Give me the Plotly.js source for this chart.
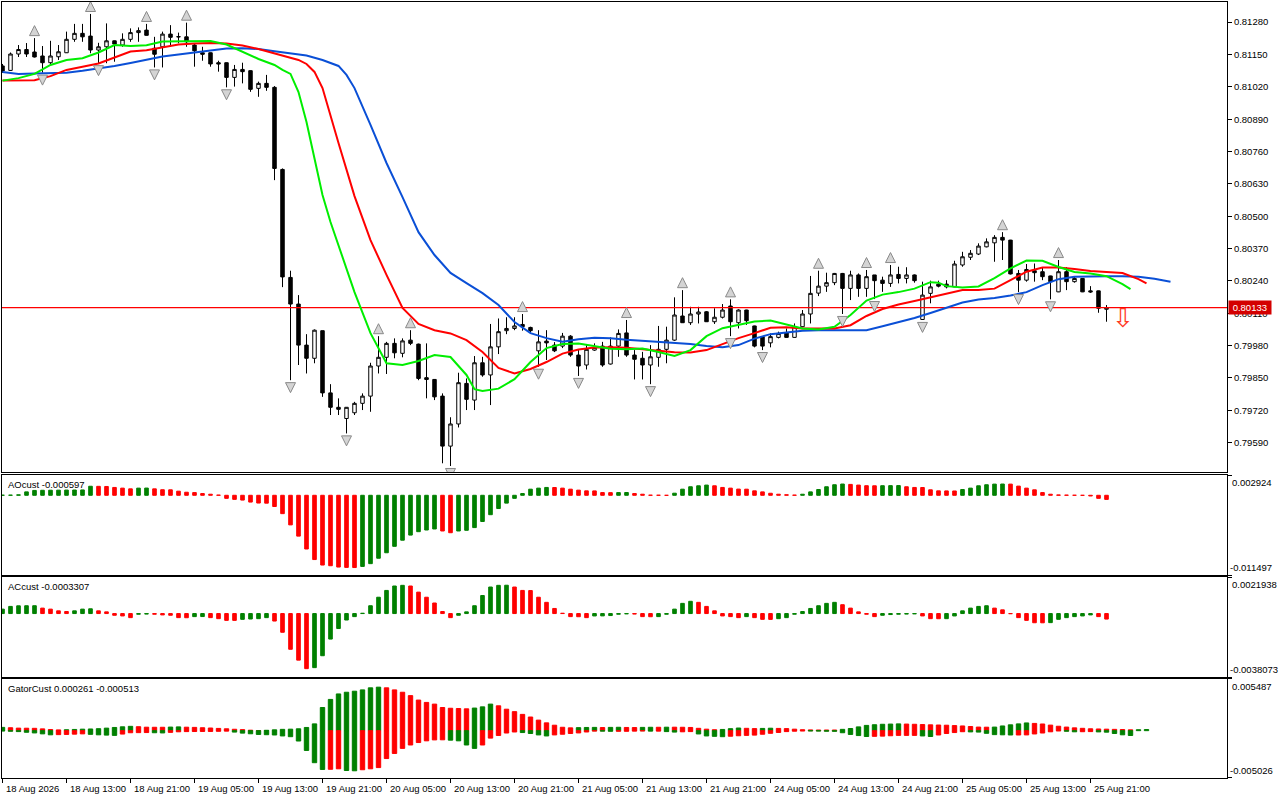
<!DOCTYPE html>
<html>
<head>
<meta charset="utf-8">
<script src="https://cdn.plot.ly/plotly-3.0.1.min.js"></script>
<style>html,body{margin:0;padding:0;background:#fff}#chart{width:1280px;height:800px}</style>
</head>
<body>
<div id="chart"></div>
<script>
// H1 chart: candles + alligator + fractals, then AO / AC / Gator panels

var FONT = "Liberation Sans, Arial, sans-serif";
var FS = 9.5;

// time axis labels, one every 8 bars
var tickLabels = ["18 Aug 2026","18 Aug 13:00","18 Aug 21:00","19 Aug 05:00","19 Aug 13:00","19 Aug 21:00",
  "20 Aug 05:00","20 Aug 13:00","20 Aug 21:00","21 Aug 05:00","21 Aug 13:00","21 Aug 21:00",
  "24 Aug 05:00","24 Aug 13:00","24 Aug 21:00","25 Aug 05:00","25 Aug 13:00","25 Aug 21:00"];
var tickBars = [0,8,16,24,32,40,48,56,64,72,80,88,96,104,112,120,128,136];

var priceTicks = [0.81280,0.81150,0.81020,0.80890,0.80760,0.80630,0.80500,0.80370,0.80240,0.80110,0.79980,0.79850,0.79720,0.79590];
var lastPrice = 0.80133;

var openP = [0.81104,0.81086,0.81152,0.81170,0.81160,0.81144,0.81117,0.81141,0.81157,0.81211,
  0.81235,0.81224,0.81168,0.81181,0.81205,0.81188,0.81211,0.81238,0.81248,0.81175,
  0.81181,0.81232,0.81222,0.81221,0.81188,0.81157,0.81157,0.81117,0.81117,0.81058,
  0.81090,0.81085,0.81014,0.81034,0.81018,0.80688,0.80254,0.80147,0.79982,0.79929,
  0.80040,0.79790,0.79732,0.79687,0.79710,0.79748,0.79777,0.79898,0.79933,0.79989,
  0.79949,0.80002,0.79986,0.79851,0.79844,0.79777,0.79576,0.79665,0.79828,0.79761,
  0.79911,0.79862,0.79975,0.80040,0.80049,0.80065,0.80053,0.79959,0.79998,0.79982,
  0.79978,0.80018,0.79942,0.79902,0.79962,0.79978,0.79906,0.79978,0.80031,0.79942,
  0.79929,0.79902,0.79933,0.79965,0.80002,0.80099,0.80072,0.80107,0.80116,0.80076,
  0.80094,0.80139,0.80072,0.80123,0.80059,0.80016,0.79991,0.80013,0.80031,0.80013,
  0.80056,0.80107,0.80191,0.80219,0.80233,0.80270,0.80210,0.80264,0.80210,0.80264,
  0.80243,0.80230,0.80266,0.80250,0.80264,0.80085,0.80190,0.80227,0.80227,0.80216,
  0.80304,0.80335,0.80348,0.80377,0.80393,0.80415,0.80404,0.80270,0.80243,0.80281,
  0.80277,0.80260,0.80196,0.80277,0.80237,0.80250,0.80200,0.80200,0.80126];
var highP = [0.81112,0.81158,0.81188,0.81196,0.81216,0.81184,0.81205,0.81188,0.81242,0.81273,
  0.81273,0.81313,0.81197,0.81275,0.81206,0.81235,0.81255,0.81259,0.81273,0.81221,
  0.81242,0.81268,0.81238,0.81278,0.81195,0.81181,0.81158,0.81125,0.81118,0.81108,
  0.81117,0.81086,0.81041,0.81068,0.81023,0.80692,0.80281,0.80183,0.80026,0.80045,
  0.80040,0.79825,0.79768,0.79733,0.79754,0.79788,0.79911,0.80018,0.79995,0.80009,
  0.80009,0.80042,0.79988,0.79989,0.79845,0.79788,0.79692,0.79871,0.79848,0.79938,
  0.79935,0.80067,0.80089,0.80094,0.80094,0.80107,0.80056,0.80042,0.80042,0.79994,
  0.80031,0.80022,0.79965,0.79982,0.79989,0.79995,0.80013,0.80045,0.80083,0.79962,
  0.79955,0.79982,0.80059,0.80056,0.80174,0.80203,0.80136,0.80136,0.80119,0.80130,
  0.80147,0.80166,0.80126,0.80124,0.80060,0.80016,0.80029,0.80036,0.80049,0.80069,
  0.80123,0.80260,0.80281,0.80273,0.80272,0.80272,0.80281,0.80270,0.80284,0.80264,
  0.80257,0.80304,0.80297,0.80295,0.80266,0.80237,0.80241,0.80241,0.80243,0.80321,
  0.80357,0.80364,0.80391,0.80411,0.80424,0.80436,0.80405,0.80284,0.80308,0.80310,
  0.80295,0.80261,0.80324,0.80295,0.80257,0.80251,0.80219,0.80201,0.80143];
var lowP = [0.81076,0.81084,0.81140,0.81140,0.81138,0.81077,0.81112,0.81128,0.81156,0.81201,
  0.81201,0.81155,0.81115,0.81115,0.81121,0.81181,0.81201,0.81201,0.81226,0.81098,
  0.81098,0.81181,0.81195,0.81181,0.81101,0.81125,0.81101,0.81081,0.81018,0.81021,
  0.81034,0.81000,0.80980,0.81004,0.80645,0.80215,0.79841,0.79902,0.79868,0.79909,
  0.79774,0.79701,0.79701,0.79627,0.79701,0.79721,0.79714,0.79868,0.79866,0.79929,
  0.79933,0.79982,0.79841,0.79768,0.79761,0.79507,0.79496,0.79651,0.79721,0.79721,
  0.79855,0.79741,0.79946,0.80026,0.80042,0.80040,0.80029,0.79895,0.79922,0.79954,
  0.79970,0.79935,0.79858,0.79884,0.79959,0.79895,0.79904,0.79935,0.79935,0.79844,
  0.79844,0.79825,0.79895,0.79909,0.79999,0.80071,0.80063,0.80069,0.80075,0.80067,
  0.80089,0.80018,0.80049,0.80063,0.79973,0.79962,0.79973,0.80009,0.80012,0.80012,
  0.80054,0.80069,0.80179,0.80196,0.80223,0.80107,0.80163,0.80176,0.80176,0.80167,
  0.80196,0.80216,0.80230,0.80230,0.80233,0.80083,0.80150,0.80214,0.80210,0.80215,
  0.80297,0.80324,0.80344,0.80375,0.80317,0.80324,0.80266,0.80195,0.80237,0.80237,
  0.80243,0.80166,0.80195,0.80203,0.80233,0.80195,0.80192,0.80112,0.80076];
var closeP = [0.81084,0.81152,0.81170,0.81152,0.81140,0.81117,0.81144,0.81161,0.81211,0.81235,
  0.81221,0.81168,0.81181,0.81205,0.81192,0.81211,0.81238,0.81246,0.81227,0.81151,
  0.81232,0.81219,0.81221,0.81201,0.81165,0.81151,0.81112,0.81112,0.81058,0.81090,
  0.81081,0.81010,0.81034,0.81018,0.80692,0.80256,0.80147,0.79982,0.79929,0.80042,
  0.79790,0.79732,0.79724,0.79732,0.79748,0.79777,0.79898,0.79933,0.79989,0.79951,
  0.79999,0.79989,0.79848,0.79844,0.79774,0.79576,0.79665,0.79831,0.79764,0.79911,
  0.79862,0.79975,0.80036,0.80049,0.80059,0.80056,0.80040,0.79995,0.79991,0.79959,
  0.80018,0.79942,0.79898,0.79965,0.79973,0.79902,0.79978,0.80029,0.79942,0.79925,
  0.79902,0.79935,0.79965,0.80002,0.80103,0.80072,0.80107,0.80115,0.80076,0.80094,
  0.80123,0.80076,0.80123,0.80080,0.79978,0.79978,0.80016,0.80029,0.80013,0.80056,
  0.80107,0.80190,0.80219,0.80233,0.80270,0.80210,0.80264,0.80210,0.80257,0.80241,
  0.80230,0.80264,0.80250,0.80264,0.80241,0.80183,0.80216,0.80219,0.80216,0.80308,
  0.80337,0.80351,0.80380,0.80397,0.80415,0.80404,0.80268,0.80243,0.80286,0.80273,
  0.80257,0.80237,0.80277,0.80237,0.80250,0.80196,0.80196,0.80130,0.80133];

// alligator lines (shifted lines run past the last bar)
var jawBars = [0,2,4,6,8,10,12,14,16,18,20,22,24,26,28,30,32,34,36,38,40,42,43,44,46,48,50,52,54,56,58,60,
  62,64,66,68,70,72,74,76,78,80,82,84,86,88,90,92,94,96,98,100,102,104,106,108,110,112,114,116,118,120,
  122,124,126,128,130,132,134,136,138,140,142,144,146];
var jaw = [0.81080,0.81072,0.81074,0.81074,0.81077,0.81085,0.81094,0.81104,0.81116,0.81130,0.81142,0.81150,
  0.81159,0.81168,0.81174,0.81175,0.81172,0.81163,0.81155,0.81146,0.81128,0.81104,0.81068,0.81015,0.80867,
  0.80714,0.80577,0.80436,0.80344,0.80272,0.80231,0.80191,0.80143,0.80075,0.80030,0.80010,0.79996,0.80006,
  0.80012,0.80010,0.80004,0.80000,0.79994,0.79990,0.79986,0.79978,0.79973,0.79982,0.80008,0.80026,0.80032,
  0.80040,0.80042,0.80042,0.80040,0.80042,0.80058,0.80073,0.80091,0.80111,0.80131,0.80153,0.80165,0.80171,
  0.80181,0.80195,0.80223,0.80247,0.80257,0.80259,0.80259,0.80259,0.80257,0.80249,0.80237];
var teethBars = [0,2,4,6,8,10,12,14,16,18,20,22,24,26,28,30,32,34,36,37,38,39,40,41,42,44,46,48,50,52,54,56,
  58,60,62,64,66,68,70,72,74,76,78,80,82,84,86,88,90,92,94,96,98,100,102,104,106,108,110,112,114,116,118,
  120,122,124,126,128,130,132,134,136,138,140,142,143];
var teeth = [0.81045,0.81045,0.81047,0.81063,0.81088,0.81101,0.81114,0.81138,0.81162,0.81167,0.81178,0.81190,
  0.81194,0.81196,0.81194,0.81186,0.81172,0.81154,0.81136,0.81128,0.81112,0.81080,0.81015,0.80899,0.80794,
  0.80581,0.80404,0.80264,0.80131,0.80067,0.80042,0.80029,0.80002,0.79954,0.79890,0.79868,0.79886,0.79914,
  0.79948,0.79964,0.79972,0.79973,0.79971,0.79965,0.79958,0.79953,0.79952,0.79962,0.79986,0.80010,0.80030,
  0.80052,0.80054,0.80049,0.80049,0.80049,0.80062,0.80099,0.80127,0.80145,0.80159,0.80173,0.80189,0.80203,
  0.80203,0.80209,0.80243,0.80277,0.80294,0.80294,0.80288,0.80280,0.80276,0.80272,0.80247,0.80230];
var lipsBars = [0,2,4,6,8,10,12,14,16,18,20,22,24,26,28,30,32,34,35,36,37,38,39,40,41,42,44,46,48,50,52,54,
  56,58,59,60,62,64,66,68,70,72,74,76,78,80,82,84,86,88,90,92,94,96,98,100,102,104,106,108,110,112,114,
  116,117,118,120,122,124,126,128,130,132,134,136,138,140,141];
var lips = [0.81045,0.81055,0.81072,0.81108,0.81128,0.81135,0.81158,0.81188,0.81184,0.81187,0.81202,0.81202,
  0.81203,0.81204,0.81190,0.81160,0.81132,0.81108,0.81088,0.81072,0.80999,0.80879,0.80726,0.80585,0.80477,
  0.80380,0.80195,0.80030,0.79909,0.79902,0.79918,0.79942,0.79934,0.79862,0.79805,0.79798,0.79807,0.79845,
  0.79914,0.79970,0.79986,0.79988,0.79976,0.79967,0.79965,0.79968,0.79954,0.79938,0.79962,0.80018,0.80050,
  0.80065,0.80077,0.80081,0.80065,0.80049,0.80045,0.80056,0.80103,0.80161,0.80185,0.80195,0.80209,0.80235,
  0.80233,0.80219,0.80214,0.80218,0.80251,0.80290,0.80322,0.80321,0.80296,0.80276,0.80270,0.80259,0.80227,
  0.80207];

// fractal bars
var upFractals = [4,11,18,23,47,51,65,78,85,91,102,108,111,125,132];
var downFractals = [5,12,19,28,36,43,56,67,72,81,91,95,105,109,115,127,131];

var ao = [0.00002,0.00003,0.00007,0.00049,0.00070,0.00072,0.00073,0.00074,0.00075,0.00076,
  0.00077,0.00130,0.00129,0.00127,0.00113,0.00103,0.00093,0.00103,0.00104,0.00093,
  0.00080,0.00079,0.00059,0.00044,0.00039,0.00025,0.00015,0.00003,-0.00044,-0.00059,
  -0.00069,-0.00098,-0.00112,-0.00114,-0.00162,-0.00265,-0.00427,-0.00589,-0.00775,-0.00927,
  -0.01006,-0.01016,-0.01035,-0.01040,-0.01042,-0.01026,-0.00986,-0.00908,-0.00829,-0.00736,
  -0.00648,-0.00574,-0.00525,-0.00501,-0.00486,-0.00515,-0.00540,-0.00515,-0.00505,-0.00466,
  -0.00378,-0.00280,-0.00191,-0.00113,-0.00044,0.00025,0.00088,0.00103,0.00113,0.00112,
  0.00103,0.00088,0.00074,0.00064,0.00063,0.00039,0.00038,0.00039,0.00040,0.00025,
  0.00015,0.00002,0.00001,-0.00001,0.00030,0.00088,0.00123,0.00137,0.00147,0.00137,
  0.00113,0.00103,0.00089,0.00088,0.00064,0.00049,0.00029,0.00015,0.00008,0.00003,
  0.00015,0.00049,0.00083,0.00123,0.00152,0.00162,0.00157,0.00147,0.00138,0.00137,
  0.00138,0.00139,0.00140,0.00123,0.00113,0.00112,0.00079,0.00064,0.00063,0.00062,
  0.00083,0.00103,0.00137,0.00152,0.00161,0.00162,0.00161,0.00132,0.00103,0.00079,
  0.00039,0.00015,0.00005,0.00003,0.00001,-0.00001,-0.00010,-0.00044,-0.000597];

var ac = [0.000265,0.000429,0.000465,0.000469,0.000470,0.000327,0.000265,0.000163,0.000122,0.000163,
  0.000265,0.000286,0.000163,0.000102,-0.000102,-0.000143,-0.000245,-0.000041,-0.000030,-0.000041,
  -0.000082,-0.000102,-0.000245,-0.000250,-0.000184,-0.000180,-0.000245,-0.000306,-0.000408,-0.000410,
  -0.000347,-0.000327,-0.000306,-0.000245,-0.000449,-0.001123,-0.002143,-0.002796,-0.003306,-0.003245,
  -0.002531,-0.001531,-0.000898,-0.000388,-0.000184,0.000020,0.000469,0.000980,0.001388,0.001653,
  0.001694,0.001653,0.001286,0.000980,0.000633,0.000122,-0.000245,-0.000102,0.000102,0.000469,
  0.001082,0.001592,0.001694,0.001700,0.001592,0.001388,0.001380,0.000980,0.000674,0.000306,
  0.000020,-0.000184,-0.000190,-0.000245,-0.000143,-0.000140,-0.000120,-0.000041,-0.000020,-0.000030,
  -0.000184,-0.000190,-0.000184,-0.000041,0.000265,0.000612,0.000735,0.000674,0.000429,0.000163,
  -0.000143,-0.000184,-0.000245,-0.000184,-0.000245,-0.000347,-0.000350,-0.000306,-0.000245,-0.000041,
  0.000122,0.000306,0.000469,0.000612,0.000674,0.000531,0.000327,0.000102,-0.000041,-0.000184,
  -0.000102,-0.000060,-0.000040,-0.000030,-0.000020,-0.000143,-0.000306,-0.000310,-0.000306,-0.000143,
  0.000163,0.000327,0.000429,0.000469,0.000327,0.000224,-0.000010,-0.000245,-0.000408,-0.000551,
  -0.000555,-0.000545,-0.000347,-0.000245,-0.000184,-0.000143,-0.000082,-0.000184,-0.000331];

var gatorUp = [0.00035,0.00031,0.00027,0.00026,0.00025,0.00019,0.00012,0.00008,0.00010,0.00013,
  0.00016,0.00018,0.00021,0.00027,0.00034,0.00041,0.00046,0.00042,0.00037,0.00036,
  0.00036,0.00038,0.00040,0.00037,0.00035,0.00031,0.00028,0.00024,0.00020,0.00015,
  0.00011,0.00005,0.00001,0.00004,0.00009,0.00014,0.00016,0.00020,0.00034,0.00072,
  0.00246,0.00332,0.00390,0.00408,0.00419,0.00433,0.00455,0.00462,0.00455,0.00433,
  0.00408,0.00372,0.00325,0.00300,0.00282,0.00246,0.00238,0.00235,0.00232,0.00240,
  0.00253,0.00282,0.00264,0.00228,0.00202,0.00173,0.00145,0.00112,0.00083,0.00058,
  0.00036,0.00030,0.00032,0.00034,0.00035,0.00033,0.00035,0.00036,0.00034,0.00033,
  0.00035,0.00036,0.00036,0.00037,0.00037,0.00036,0.00034,0.00025,0.00016,0.00010,
  0.00013,0.00021,0.00028,0.00025,0.00022,0.00024,0.00026,0.00024,0.00022,0.00016,
  0.00010,0.00008,0.00007,0.00007,0.00007,0.00014,0.00023,0.00040,0.00056,0.00063,
  0.00068,0.00070,0.00072,0.00070,0.00068,0.00065,0.00062,0.00060,0.00058,0.00054,
  0.00050,0.00044,0.00038,0.00037,0.00038,0.00050,0.00062,0.00072,0.00082,0.00077,
  0.00071,0.00059,0.00047,0.00038,0.00030,0.00025,0.00020,0.00018,0.00016,0.00014,
  0.00012,0.00009,0.00010,0.00012];
var gatorDown = [-0.00003,-0.00006,-0.00010,-0.00017,-0.00024,-0.00034,-0.00044,-0.00042,-0.00040,-0.00037,
  -0.00034,-0.00039,-0.00044,-0.00047,-0.00050,-0.00036,-0.00022,-0.00021,-0.00020,-0.00022,
  -0.00024,-0.00018,-0.00012,-0.00010,-0.00009,-0.00008,-0.00008,-0.00006,-0.00004,-0.00015,
  -0.00026,-0.00033,-0.00040,-0.00043,-0.00046,-0.00056,-0.00064,-0.00110,-0.00210,-0.00340,
  -0.00412,-0.00410,-0.00405,-0.00423,-0.00426,-0.00415,-0.00405,-0.00392,-0.00296,-0.00242,
  -0.00188,-0.00152,-0.00126,-0.00108,-0.00098,-0.00097,-0.00101,-0.00108,-0.00152,-0.00188,
  -0.00152,-0.00079,-0.00051,-0.00025,-0.00014,-0.00020,-0.00030,-0.00045,-0.00056,-0.00045,
  -0.00038,-0.00030,-0.00024,-0.00014,-0.00004,-0.00005,-0.00006,-0.00006,-0.00006,-0.00004,
  -0.00003,-0.00004,-0.00004,-0.00010,-0.00015,-0.00012,-0.00010,-0.00035,-0.00056,-0.00060,
  -0.00064,-0.00059,-0.00054,-0.00050,-0.00047,-0.00038,-0.00028,-0.00019,-0.00010,-0.00005,
  -0.00002,-0.00003,-0.00004,-0.00006,-0.00007,-0.00022,-0.00040,-0.00052,-0.00062,-0.00060,
  -0.00058,-0.00054,-0.00050,-0.00050,-0.00050,-0.00056,-0.00062,-0.00046,-0.00030,-0.00020,
  -0.00011,-0.00013,-0.00015,-0.00028,-0.00042,-0.00044,-0.00046,-0.00046,-0.00045,-0.00035,
  -0.00025,-0.00012,-0.00001,-0.00006,-0.00012,-0.00011,-0.00010,-0.00013,-0.00016,-0.00030,
  -0.00044,-0.000513];

var GREEN = "#008000", RED = "#ff0000";

function indexOf(arr) { return arr.map(function(v, i) { return i; }); }

// histogram colour: green when the bar grew compared with the previous one
function growColors(vals, useAbs) {
  return vals.map(function(v, i) {
    if (i === 0) return GREEN;
    var a = useAbs ? Math.abs(v) : v, b = useAbs ? Math.abs(vals[i - 1]) : vals[i - 1];
    return a > b ? GREEN : RED;
  });
}

function histTrace(vals, xa, ya, width, useAbs) {
  var c = growColors(vals, useAbs);
  return {
    type: "bar", x: indexOf(vals), y: vals, xaxis: xa, yaxis: ya, width: width,
    marker: {color: c, line: {color: c, width: 1}}, hoverinfo: "skip",
  };
}

var bars = indexOf(openP);
var xRange = [-0.0625, 153.0625];

var traces = [
  // last price level
  {type: "scatter", mode: "lines", x: xRange, y: [lastPrice, lastPrice], xaxis: "x", yaxis: "y",
    line: {color: "#ff0000", width: 1.2}, hoverinfo: "skip"},
  {
    type: "candlestick", x: bars, open: openP, high: highP, low: lowP, close: closeP,
    xaxis: "x", yaxis: "y", whiskerwidth: 0, hoverinfo: "skip",
    increasing: {line: {color: "#000", width: 1}, fillcolor: "#fff"},
    decreasing: {line: {color: "#000", width: 1}, fillcolor: "#000"},
  },
  {type: "scatter", mode: "lines", x: jawBars, y: jaw, xaxis: "x", yaxis: "y", line: {color: "#0a4fd6", width: 2}, hoverinfo: "skip"},
  {type: "scatter", mode: "lines", x: teethBars, y: teeth, xaxis: "x", yaxis: "y", line: {color: "#ff0000", width: 2}, hoverinfo: "skip"},
  {type: "scatter", mode: "lines", x: lipsBars, y: lips, xaxis: "x", yaxis: "y", line: {color: "#00ee00", width: 2}, hoverinfo: "skip"},
  {
    type: "scatter", mode: "markers", x: upFractals,
    y: upFractals.map(function(i) { return highP[i] + 0.00050; }),
    xaxis: "x", yaxis: "y", hoverinfo: "skip",
    marker: {symbol: "arrow-up", size: 10, color: "#d4d4d4", line: {color: "#8a8a8a", width: 1}},
  },
  {
    type: "scatter", mode: "markers", x: downFractals,
    y: downFractals.map(function(i) { return lowP[i] - 0.00050; }),
    xaxis: "x", yaxis: "y", hoverinfo: "skip",
    marker: {symbol: "arrow-down", size: 10, color: "#d4d4d4", line: {color: "#8a8a8a", width: 1}},
  },
  histTrace(ao, "x2", "y2", 0.45, false),
  histTrace(ac, "x3", "y3", 0.45, false),
  histTrace(gatorUp, "x4", "y4", 0.55, false),
  histTrace(gatorDown, "x4", "y4", 0.55, true),
];

function xAxis(anchor, last) {
  return {
    anchor: anchor, range: xRange, showgrid: false, zeroline: false, fixedrange: true,
    showline: true, mirror: true, linecolor: "#000", linewidth: 1,
    showticklabels: false, ticks: last ? "outside" : "", ticklen: 4, tickcolor: "#000",
    tickvals: tickBars, rangeslider: {visible: false},
  };
}
function yAxis(domain, range, tickvals, labels) {
  return {
    domain: domain, range: range, side: "right", showgrid: false, zeroline: false, fixedrange: true,
    showline: true, mirror: true, linecolor: "#000", linewidth: 1,
    ticks: "outside", ticklen: 4, tickcolor: "#000", tickvals: tickvals,
    showticklabels: labels, tickformat: ".5f", tickfont: {family: FONT, size: FS, color: "#000"},
  };
}

var ann = [];
tickBars.forEach(function(b, k) {
  ann.push({x: b, xref: "x4", y: 0, yref: "paper", yanchor: "top", xanchor: "left", xshift: 1, yshift: -3,
    text: tickLabels[k], showarrow: false, font: {family: FONT, size: FS, color: "#000"}});
});

// sub-window scale labels (top and bottom value of each window)
var subScales = [["y2", "0.002924", "-0.011497"], ["y3", "0.0021938", "-0.0038073"], ["y4", "0.005487", "-0.005026"]];
subScales.forEach(function(s) {
  ann.push({x: 1, xref: "paper", xanchor: "left", xshift: 3, y: 1, yref: s[0] + " domain", yanchor: "top",
    text: s[1], showarrow: false, font: {family: FONT, size: FS, color: "#000"}});
  ann.push({x: 1, xref: "paper", xanchor: "left", xshift: 1, y: 0, yref: s[0] + " domain", yanchor: "bottom",
    text: s[2], showarrow: false, font: {family: FONT, size: FS, color: "#000"}});
});

// window captions
[["y2", "AOcust -0.000597"], ["y3", "ACcust -0.0003307"], ["y4", "GatorCust 0.000261 -0.000513"]].forEach(function(s) {
  ann.push({x: 0, xref: "paper", xanchor: "left", xshift: 4, y: 1, yref: s[0] + " domain", yanchor: "top", yshift: -2,
    text: s[1], showarrow: false, font: {family: FONT, size: FS, color: "#000"}});
});

// last price box and sell arrow
ann.push({x: 1, xref: "paper", xanchor: "left", xshift: 1, y: lastPrice, yref: "y",
  text: "&nbsp;" + lastPrice.toFixed(5) + "&nbsp;", showarrow: false, bgcolor: "#d40000", borderpad: 1,
  font: {family: FONT, size: FS, color: "#fff"}});
ann.push({x: 140, xref: "x", y: 0.80089, yref: "y", text: "\u21e9", showarrow: false,
  font: {family: "DejaVu Sans", size: 26, color: "#ff3a1f"}});

var layout = {
  width: 1280, height: 800,
  margin: {l: 2, r: 53, t: 2, b: 22},
  paper_bgcolor: "#fff", plot_bgcolor: "#fff",
  showlegend: false, hovermode: false,
  barmode: "overlay", boxgap: 0.38,
  font: {family: FONT, size: FS, color: "#000"},
  xaxis: xAxis("y", false),
  xaxis2: xAxis("y2", false),
  xaxis3: xAxis("y3", false),
  xaxis4: xAxis("y4", true),
  yaxis: yAxis([0.39433, 1], [0.79472, 0.81361], priceTicks, true),
  yaxis2: yAxis([0.26160, 0.39046], [-0.011497, 0.002924], [-0.011497, 0.002924], false),
  yaxis3: yAxis([0.13015, 0.25902], [-0.0038073, 0.0021938], [-0.0038073, 0.0021938], false),
  yaxis4: yAxis([0, 0.12758], [-0.005026, 0.005487], [-0.005026, 0.005487], false),
  annotations: ann,
};

Plotly.newPlot("chart", traces, layout, {staticPlot: true, displayModeBar: false});
</script>
</body>
</html>
